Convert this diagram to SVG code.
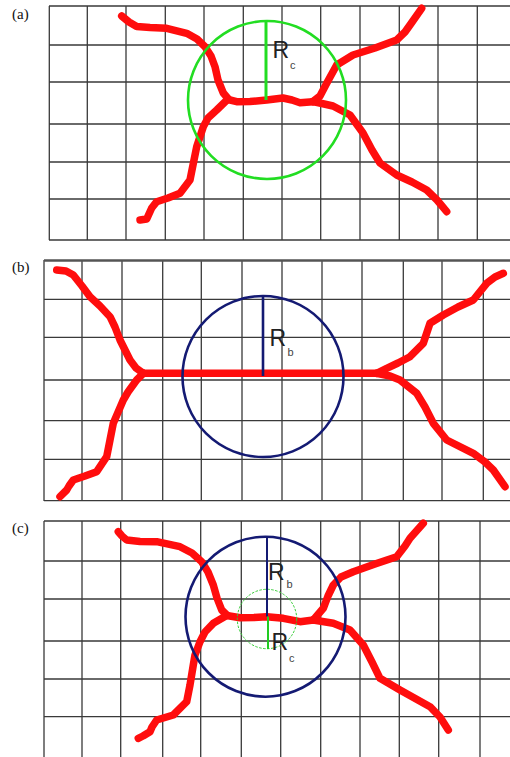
<svg xmlns="http://www.w3.org/2000/svg" width="510" height="757" viewBox="0 0 510 757">
<style>
.g{stroke:#3a3a3a;stroke-width:1.3;fill:none}
.red{stroke:#ff0d0d;stroke-width:7.5;fill:none;stroke-linecap:round;stroke-linejoin:round}
.lbl{font-family:"Liberation Serif",serif;font-size:15px;fill:#111}
.R{font-family:"Liberation Sans",Arial,sans-serif;font-size:23px;fill:#222}
.sub{font-family:"Liberation Sans",Arial,sans-serif;font-size:11px;fill:#444}
</style>
<rect width="510" height="757" fill="#fff"/>

<g id="panel-a">
  <text class="lbl" x="12" y="19">(a)</text>
  <path class="g" d="M49.3 6V240M87.3 6V240M126 6V240M165.3 6V240M204 6V240M243.3 6V240M282 6V240M320.7 6V240M360 6V240M399.3 6V240M438 6V240M477.3 6V240
  M49 6H510M49 45H510M49 82H510M49 124H510M49 162H510M49 199H510M49 240H510"/>
  <g id="a-fibers">
    <polyline class="red" points="121.7,16 129,22 136.7,26.5 150,27.5 166.7,28.3 186.7,33.3 197,39 205,46.7 211,56 215,66.7 218,80 223.3,93 228,98.5"/>
    <polyline class="red" points="228,99.5 236.7,101.7 250,101.5 266.7,100 283,98 292,100 300,102.7 313,101.7"/>
    <polyline class="red" points="313,101.5 320,96 326.7,83.3 336.7,65 353,55 375,48 396.7,40 405,32 410,25 421.7,8.3"/>
    <polyline class="red" points="313,101.5 333,106 350,115 363,133 372,150 380,163 396.7,175 412,182 426.7,190 437,200 446.7,211.7"/>
    <polyline class="red" points="228,99 216.7,110 208,118 203.3,126.7 196.7,146.7 193,165 190,180 180,193.3 168,198 156.7,201.7 151.7,208 146.7,219 140,220"/>
  </g>
  <circle cx="267" cy="100" r="79" fill="none" stroke="#22dd22" stroke-width="2.6"/>
  <line x1="266" y1="22" x2="266" y2="100" stroke="#22dd22" stroke-width="3"/>
  <text class="R" x="272.5" y="58">R</text>
  <text class="sub" x="290" y="68.5">c</text>
</g>

<g id="panel-b">
  <text class="lbl" x="12" y="272">(b)</text>
  <path class="g" d="M44 260V501M82 260V501M122 260V501M162.7 260V501M201.3 260V501M242 260V501M282 260V501M322 260V501M362 260V501M403.3 260V501M442 260V501M483.3 260V501
  M44 299.3H510M44 337.3H510M44 380H510M44 420.7H510M44 459.3H510M44 500.7H510"/>
  <line x1="44" y1="260.5" x2="510" y2="260.5" stroke="#555" stroke-width="2.6"/>
  <g id="b-fibers">
    <polyline class="red" points="56.7,270 66,271 73.3,275 82,286 90,296.7 100,306 110,316.7 115,327 120,340 130,360 136,368 143.3,373.3"/>
    <polyline class="red" points="143.3,373.3 136.7,380 128,392 123.3,400 113.3,423.3 110,440 106.7,456.7 96.7,471.7 85,476 73.3,480 69,486 66.7,490 60,496.7"/>
    <line class="red" x1="143.3" y1="373.3" x2="376.7" y2="373.3"/>
    <polyline class="red" points="376.7,373.3 386.7,368.3 398,363 410,356.7 423.3,343.3 430,323.3 443.3,315 458,307 473.3,300 486.7,283.3 495,277 503.3,273.3"/>
    <polyline class="red" points="376.7,373.3 390,376 400,380 416.7,393.3 425,407 433.3,423.3 446.7,440 473.3,453.3 485,462 493.3,470 505,486.7"/>
  </g>
  <circle cx="263" cy="376.5" r="80.5" fill="none" stroke="#141a73" stroke-width="2.6"/>
  <line x1="263" y1="296" x2="263" y2="376" stroke="#141a73" stroke-width="2.6"/>
  <text class="R" x="269.5" y="346">R</text>
  <text class="sub" x="287.5" y="356">b</text>
</g>

<g id="panel-c">
  <text class="lbl" x="12" y="533">(c)</text>
  <path class="g" d="M44 521V757M82 521V757M120.7 521V757M162.7 521V757M200.7 521V757M241.3 521V757M280.7 521V757M320.7 521V757M360 521V757M399.3 521V757M438.7 521V757M480 521V757
  M44 521H510M44 561H510M44 599H510M44 641H510M44 679H510M44 716.7H510"/>
  <g id="c-fibers">
    <polyline class="red" points="118.3,531.7 122,536 126.7,540 140,541.5 156.7,541.7 180,546.7 192,553 201.7,561.7 208,572 213.3,585 217,598 221.7,610 226.7,615"/>
    <polyline class="red" points="226.7,615.5 240,617.7 254,617.5 266.7,616.7 283.3,618.3 300,621.7 313.3,620"/>
    <polyline class="red" points="313.3,620 323.3,608.3 328,596 333.3,585 341,577 353.3,571.7 375,564 396.7,556.7 405,546 410,538.3 423.3,523.3"/>
    <polyline class="red" points="313.3,620 333.3,623.3 350,630 363.3,645 372,662 380,678.3 400,690 430,706.7 440,717 448.3,730"/>
    <polyline class="red" points="226.7,615.5 213.3,623.3 205,632 200,641.7 195,655 193.3,665 190,685 186.7,701.7 173.3,715 156.7,720 152,727 150,731.7 143,736 138.3,738.3"/>
  </g>
  <circle cx="265.5" cy="616.7" r="80" fill="none" stroke="#141a73" stroke-width="2.6"/>
  <circle cx="267" cy="619" r="29.7" fill="none" stroke="#33cc33" stroke-width="1" stroke-dasharray="2.5 1.5"/>
  <line x1="267" y1="536.5" x2="267" y2="616.5" stroke="#141a73" stroke-width="2"/>
  <line x1="268" y1="616.5" x2="268" y2="649" stroke="#22cc22" stroke-width="2"/>
  <text class="R" x="268" y="580">R</text>
  <text class="sub" x="286.5" y="588">b</text>
  <text class="R" x="271.5" y="650">R</text>
  <text class="sub" x="289" y="662">c</text>
</g>
</svg>
